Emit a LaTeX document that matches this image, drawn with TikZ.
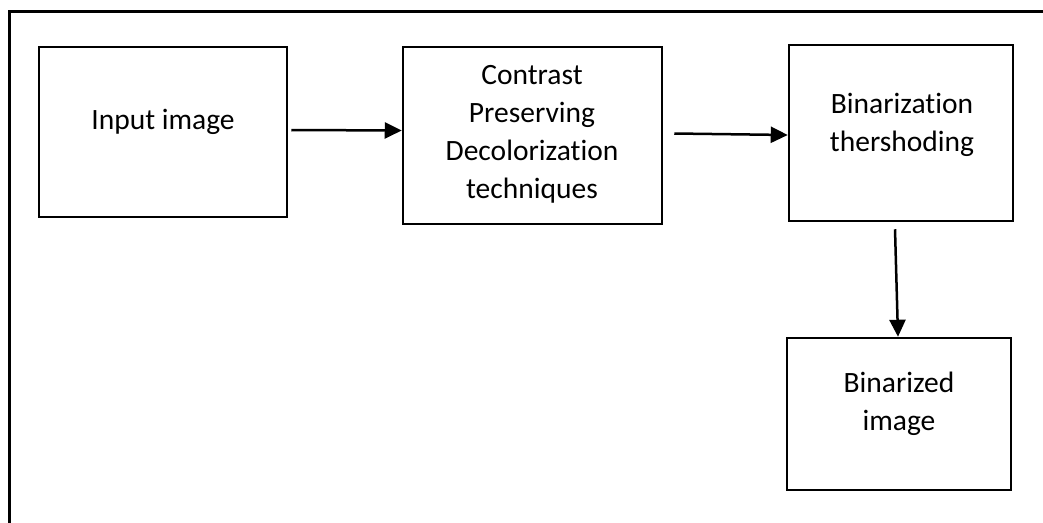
\documentclass[tikz,border=0pt]{standalone}
\usepackage{fontspec}
\setmainfont{Carlito}[Ligatures=NoCommon]
\usepackage{tikz}
\usetikzlibrary{positioning,arrows.meta}

\begin{document}
\begin{tikzpicture}[
  x=1pt, y=-1pt,
  stageBox/.style={rectangle, draw, line width=2.5pt, inner sep=0pt},
  stageText/.style={align=center, inner sep=0pt,
                    font=\fontsize{29.5}{38}\selectfont},
  flowArrow/.style={line width=2.5pt, -{Triangle[length=17pt, width=16pt]}},
  >=Stealth
]
  \clip (0,0) rectangle (1043,522);
  % === Outer frame ===
  \draw[line width=3pt] (9,540) |- (1060,11);

  % === Stage boxes ===
  \node[stageBox, minimum width=248pt, minimum height=170pt] (inputBox)
    at (163,132) {};
  \node[stageBox, minimum width=259pt, minimum height=177pt] (contrastBox)
    at (532.5,135.5) {};
  \node[stageBox, minimum width=224pt, minimum height=176pt] (binBox)
    at (901,133) {};
  \node[stageBox, minimum width=224pt, minimum height=152pt] (outBox)
    at (899,414) {};

  % Texts sit above the box centres
  \node[stageText] (inputText) at (163,122) {Input image};
  \node[stageText] (contrastText) at (532,134)
    {Contrast\\Preserving\\Decolorization\\techniques};
  \node[stageText] (binText) at (902,125) {Binarization\\thershoding};
  \node[stageText] (outText) at (899,404) {Binarized\\image};

  % === Flow ===
  \draw[flowArrow] ([xshift=3pt,yshift=2pt]inputBox.east)
    -- ([yshift=5pt]contrastBox.west);
  \draw[flowArrow] ([xshift=11pt,yshift=2pt]contrastBox.east)
    -- ([yshift=-2pt]binBox.west);
  \draw[flowArrow] ([xshift=-6pt,yshift=-7pt]binBox.south)
    -- ([xshift=-1pt]outBox.north);
\end{tikzpicture}
\end{document}
